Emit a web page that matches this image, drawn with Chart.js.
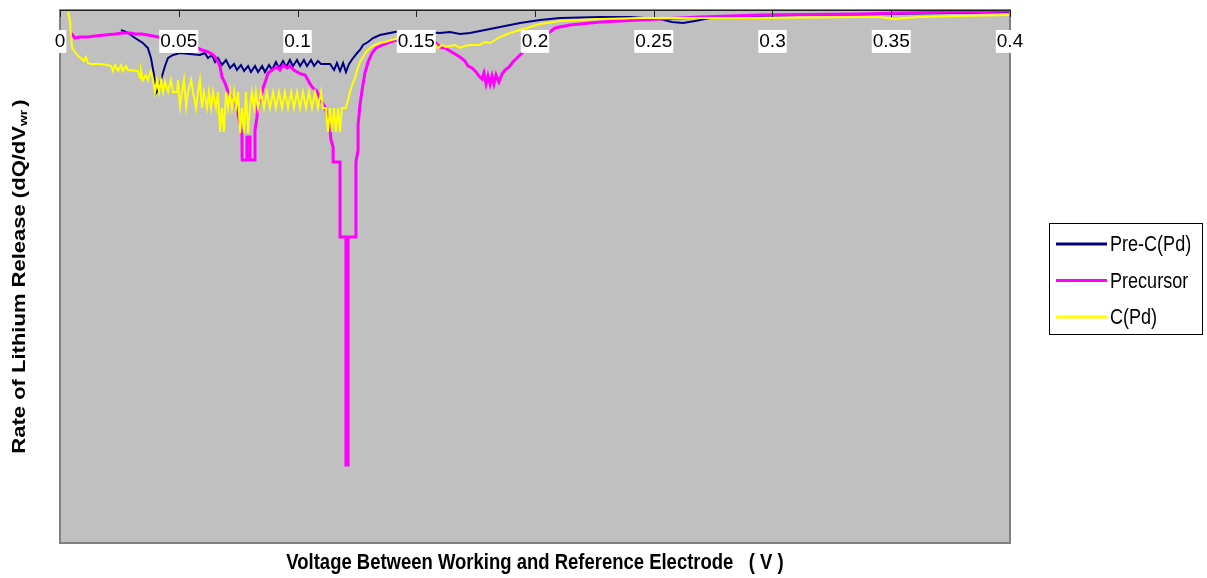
<!DOCTYPE html>
<html>
<head>
<meta charset="utf-8">
<script src="https://cdn.jsdelivr.net/npm/chart.js@4.4.1/dist/chart.umd.min.js"></script>
<style>
html, body { margin: 0; padding: 0; background: #fff; }
#wrap { width: 1207px; height: 578px; position: relative; }
</style>
</head>
<body>
<div id="wrap"><canvas id="myChart"></canvas></div>
<script>
// x: voltage (V), y: rate of lithium release (arbitrary units, negative down)
const xTicks = [0, 0.05, 0.1, 0.15, 0.2, 0.25, 0.3, 0.35, 0.4];
const xTickLabels = ['0', '0.05', '0.1', '0.15', '0.2', '0.25', '0.3', '0.35', '0.4'];
const seriesNames = ['Pre-C(Pd)', 'Precursor', 'C(Pd)'];

const preCPd = [
  [0.0257,-0.20],[0.0286,-0.23],[0.0316,-0.28],[0.0349,-0.33],[0.0370,-0.38],[0.0383,-0.48],
  [0.0396,-0.65],[0.0404,-0.83],[0.0413,-0.80],[0.0425,-0.70],[0.0442,-0.56],[0.0455,-0.48],
  [0.0476,-0.45],[0.0505,-0.43],[0.0547,-0.44],[0.0589,-0.45],[0.0610,-0.43],[0.0623,-0.48],
  [0.0640,-0.45],[0.0653,-0.52],[0.0665,-0.48],[0.0682,-0.55],[0.0699,-0.50],[0.0716,-0.58],
  [0.0733,-0.54],[0.0745,-0.60],[0.0762,-0.55],[0.0775,-0.61],[0.0792,-0.56],[0.0804,-0.62],
  [0.0821,-0.56],[0.0834,-0.62],[0.0851,-0.56],[0.0863,-0.62],[0.0880,-0.55],[0.0893,-0.60],
  [0.0909,-0.52],[0.0922,-0.58],[0.0939,-0.51],[0.0952,-0.57],[0.0968,-0.50],[0.0981,-0.56],
  [0.0998,-0.50],[0.1011,-0.56],[0.1027,-0.50],[0.1040,-0.56],[0.1057,-0.50],[0.1070,-0.56],
  [0.1086,-0.51],[0.1099,-0.54],[0.1137,-0.54],[0.1154,-0.60],[0.1166,-0.53],[0.1179,-0.61],
  [0.1192,-0.53],[0.1204,-0.62],[0.1217,-0.54],[0.1234,-0.48],[0.1251,-0.43],[0.1263,-0.40],
  [0.1276,-0.35],[0.1297,-0.32],[0.1318,-0.28],[0.1347,-0.25],[0.1389,-0.23],[0.1432,-0.21],
  [0.1516,-0.22],[0.1600,-0.23],[0.1642,-0.22],[0.1684,-0.24],[0.1726,-0.23],[0.1768,-0.21],
  [0.1853,-0.17],[0.1937,-0.13],[0.2021,-0.10],[0.2105,-0.08],[0.2274,-0.07],[0.2400,-0.07],
  [0.2526,-0.09],[0.2577,-0.12],[0.2623,-0.13],[0.2674,-0.11],[0.2737,-0.08],[0.2863,-0.06],
  [0.3116,-0.05],[0.3453,-0.04],[0.3747,-0.03],[0.4000,-0.02]
];

const precursor = [
  [0.0046,-0.23],[0.0063,-0.28],[0.0084,-0.27],[0.0118,-0.27],[0.0147,-0.26],[0.0189,-0.25],
  [0.0232,-0.24],[0.0261,-0.23],[0.0295,-0.23],[0.0316,-0.24],[0.0345,-0.24],[0.0370,-0.25],
  [0.0413,-0.27],[0.0484,-0.30],[0.0547,-0.34],[0.0577,-0.38],[0.0598,-0.40],[0.0623,-0.42],
  [0.0640,-0.44],[0.0653,-0.47],[0.0665,-0.52],[0.0674,-0.57],[0.0682,-0.67],[0.0695,-0.73],
  [0.0708,-0.82],[0.0724,-0.88],[0.0737,-0.93],[0.0745,-1.00],[0.0758,-1.13],[0.0766,-1.23],
  [0.0767,-1.50],[0.0787,-1.50],[0.0787,-1.27],[0.0800,-1.27],[0.0800,-1.50],[0.0821,-1.50],
  [0.0821,-1.20],[0.0829,-1.08],[0.0834,-0.95],[0.0846,-0.87],[0.0855,-0.78],[0.0867,-0.70],
  [0.0876,-0.63],[0.0893,-0.60],[0.0914,-0.57],[0.0926,-0.60],[0.0939,-0.55],[0.0956,-0.58],
  [0.0968,-0.56],[0.0985,-0.60],[0.0998,-0.62],[0.1015,-0.64],[0.1032,-0.65],[0.1044,-0.70],
  [0.1053,-0.74],[0.1065,-0.78],[0.1078,-0.80],[0.1091,-0.86],[0.1103,-0.92],[0.1116,-0.97],
  [0.1124,-1.04],[0.1133,-1.10],[0.1141,-1.30],[0.1150,-1.37],[0.1150,-1.52],[0.1179,-1.52],
  [0.1179,-2.27],[0.1204,-2.27],[0.1204,-4.55],[0.1213,-4.55],[0.1213,-2.27],[0.1246,-2.27],
  [0.1246,-1.52],[0.1255,-1.40],[0.1255,-1.15],[0.1263,-0.95],[0.1272,-0.80],[0.1284,-0.63],
  [0.1297,-0.52],[0.1314,-0.43],[0.1331,-0.38],[0.1356,-0.35],[0.1389,-0.32],[0.1432,-0.29],
  [0.1495,-0.28],[0.1550,-0.30],[0.1579,-0.32],[0.1600,-0.37],[0.1621,-0.38],[0.1642,-0.41],
  [0.1663,-0.44],[0.1684,-0.47],[0.1705,-0.51],[0.1718,-0.56],[0.1735,-0.58],[0.1752,-0.62],
  [0.1764,-0.66],[0.1777,-0.69],[0.1785,-0.63],[0.1794,-0.74],[0.1802,-0.66],[0.1811,-0.74],
  [0.1819,-0.66],[0.1827,-0.74],[0.1836,-0.65],[0.1848,-0.72],[0.1861,-0.64],[0.1874,-0.60],
  [0.1891,-0.57],[0.1907,-0.52],[0.1924,-0.48],[0.1941,-0.44],[0.1958,-0.40],[0.1979,-0.34],
  [0.2021,-0.28],[0.2063,-0.22],[0.2084,-0.18],[0.2147,-0.15],[0.2274,-0.12],[0.2442,-0.10],
  [0.2695,-0.07],[0.2947,-0.05],[0.3368,-0.04],[0.3537,-0.03],[0.3789,-0.02],[0.4000,-0.01]
];

const cPd = [
  [0.0034,-0.02],[0.0042,-0.10],[0.0046,-0.25],[0.0051,-0.38],[0.0063,-0.42],[0.0076,-0.46],
  [0.0088,-0.48],[0.0101,-0.51],[0.0109,-0.47],[0.0118,-0.53],[0.0131,-0.54],[0.0168,-0.54],
  [0.0202,-0.55],[0.0215,-0.56],[0.0223,-0.61],[0.0232,-0.55],[0.0244,-0.61],[0.0257,-0.55],
  [0.0265,-0.61],[0.0278,-0.56],[0.0286,-0.60],[0.0328,-0.61],[0.0337,-0.68],[0.0341,-0.61],
  [0.0349,-0.70],[0.0362,-0.65],[0.0370,-0.70],[0.0383,-0.61],[0.0392,-0.70],[0.0400,-0.82],
  [0.0408,-0.70],[0.0417,-0.82],[0.0425,-0.70],[0.0434,-0.82],[0.0442,-0.72],[0.0455,-0.82],
  [0.0467,-0.70],[0.0476,-0.82],[0.0493,-0.82],[0.0497,-0.70],[0.0505,-0.97],[0.0514,-0.82],
  [0.0522,-0.70],[0.0531,-0.97],[0.0539,-0.82],[0.0552,-0.70],[0.0560,-0.82],[0.0573,-0.98],
  [0.0581,-0.82],[0.0589,-0.70],[0.0598,-0.98],[0.0606,-0.82],[0.0619,-0.98],[0.0627,-0.82],
  [0.0636,-0.98],[0.0644,-0.82],[0.0657,-0.98],[0.0665,-0.82],[0.0674,-1.22],[0.0682,-0.98],
  [0.0690,-1.22],[0.0699,-0.82],[0.0708,-0.98],[0.0716,-0.82],[0.0724,-0.98],[0.0733,-0.82],
  [0.0741,-0.98],[0.0750,-0.82],[0.0758,-1.23],[0.0766,-0.98],[0.0775,-1.23],[0.0783,-0.82],
  [0.0792,-1.23],[0.0800,-0.98],[0.0808,-0.82],[0.0817,-0.98],[0.0825,-0.82],[0.0834,-0.98],
  [0.0846,-0.82],[0.0859,-0.98],[0.0871,-0.82],[0.0884,-0.98],[0.0897,-0.82],[0.0909,-0.98],
  [0.0922,-0.82],[0.0935,-0.98],[0.0947,-0.82],[0.0960,-0.98],[0.0973,-0.82],[0.0985,-0.98],
  [0.0998,-0.82],[0.1011,-0.98],[0.1023,-0.82],[0.1036,-0.98],[0.1048,-0.82],[0.1061,-0.98],
  [0.1074,-0.82],[0.1086,-0.98],[0.1099,-0.82],[0.1107,-0.98],[0.1120,-0.98],[0.1128,-1.22],
  [0.1137,-0.98],[0.1145,-1.22],[0.1154,-0.98],[0.1162,-1.22],[0.1171,-0.98],[0.1179,-1.22],
  [0.1187,-0.98],[0.1204,-0.98],[0.1213,-0.90],[0.1221,-0.82],[0.1230,-0.75],[0.1242,-0.68],
  [0.1251,-0.60],[0.1263,-0.52],[0.1276,-0.47],[0.1288,-0.42],[0.1305,-0.38],[0.1326,-0.35],
  [0.1347,-0.33],[0.1368,-0.32],[0.1411,-0.29],[0.1453,-0.27],[0.1516,-0.28],[0.1570,-0.32],
  [0.1579,-0.34],[0.1592,-0.38],[0.1609,-0.35],[0.1625,-0.37],[0.1642,-0.36],[0.1663,-0.35],
  [0.1684,-0.38],[0.1705,-0.36],[0.1726,-0.35],[0.1768,-0.35],[0.1789,-0.32],[0.1811,-0.33],
  [0.1832,-0.30],[0.1853,-0.27],[0.1895,-0.23],[0.1937,-0.20],[0.1979,-0.17],[0.2021,-0.14],
  [0.2105,-0.11],[0.2274,-0.09],[0.2442,-0.08],[0.2947,-0.08],[0.3368,-0.07],[0.3453,-0.07],
  [0.3507,-0.09],[0.3558,-0.08],[0.3621,-0.07],[0.3789,-0.06],[0.4000,-0.05]
];

const wide = "'Liberation Sans', Arial, sans-serif";

function to_points(arr) {
  return arr.map(p => ({ x: p[0], y: p[1] }));
}

// plot background, frame, inner tick marks, axis titles and boxed legend
const frame = {
  id: 'frame',
  beforeDraw(chart) {
    const a = chart.chartArea, c = chart.ctx;
    c.save();
    c.fillStyle = '#C0C0C0';
    c.fillRect(a.left, a.top, a.right - a.left, a.bottom - a.top);
    c.restore();
  },
  afterDatasetsDraw(chart) {
    const a = chart.chartArea, c = chart.ctx, sx = chart.scales.x;
    c.save();
    c.strokeStyle = '#808080';
    c.lineWidth = 2;
    c.strokeRect(a.left, a.top, a.right - a.left, a.bottom - a.top);
    c.strokeStyle = '#222';
    c.lineWidth = 1;
    c.beginPath();
    c.moveTo(a.left, a.top + 0.5);
    c.lineTo(a.right, a.top + 0.5);
    xTicks.forEach(v => {
      const px = Math.round(sx.getPixelForValue(v)) + 0.5;
      c.moveTo(px, a.top);
      c.lineTo(px, a.top + 7);
    });
    c.stroke();
    c.restore();
  },
  afterDraw(chart) {
    const a = chart.chartArea, c = chart.ctx;
    c.save();
    c.fillStyle = '#000';
    // x title
    c.font = "bold 22px " + wide;
    c.textAlign = 'center';
    c.textBaseline = 'middle';
    c.save();
    c.translate((a.left + a.right) / 2, 563);
    c.scale(0.84, 1);
    c.fillText('Voltage Between Working and Reference Electrode   ( V )', 0, 0);
    c.restore();
    // y title with subscript
    c.save();
    c.translate(20, (a.top + a.bottom) / 2);
    c.scale(0.82, 1);
    c.rotate(-Math.PI / 2);
    const main = 'Rate of Lithium Release (dQ/dV';
    c.font = "bold 22px " + wide;
    const w1 = c.measureText(main).width;
    const w3 = c.measureText(')').width;
    c.font = "bold 14px " + wide;
    const w2 = c.measureText('wr').width;
    const total = w1 + w2 + 3 + w3;
    c.textAlign = 'left';
    c.font = "bold 22px " + wide;
    c.fillText(main, -total / 2, 0);
    c.font = "bold 14px " + wide;
    c.fillText('wr', -total / 2 + w1, 5);
    c.font = "bold 22px " + wide;
    c.fillText(')', -total / 2 + w1 + w2 + 3, 0);
    c.restore();
    // legend
    c.strokeStyle = '#000';
    c.lineWidth = 1;
    c.strokeRect(1049.5, 223.5, 153, 111);
    chart.data.datasets.forEach((ds, i) => {
      const y = 244 + i * 36.5;
      c.strokeStyle = ds.borderColor;
      c.lineWidth = 3;
      c.beginPath();
      c.moveTo(1056, y);
      c.lineTo(1107, y);
      c.stroke();
      c.save();
      c.translate(1110, y);
      c.scale(0.82, 1);
      c.font = "22px " + wide;
      c.textAlign = 'left';
      c.fillText(ds.label, 0, 1);
      c.restore();
    });
    c.restore();
  }
};

const ctx = document.getElementById('myChart').getContext('2d');
const MyChart = new Chart(ctx, {
  type: 'line',
  data: {
    datasets: [
      { label: seriesNames[0], data: to_points(preCPd), borderColor: '#000080', borderWidth: 2, order: 3 },
      { label: seriesNames[1], data: to_points(precursor), borderColor: '#FF00FF', borderWidth: 3, order: 2 },
      { label: seriesNames[2], data: to_points(cPd), borderColor: '#FFFF00', borderWidth: 2, order: 1 }
    ]
  },
  options: {
    responsive: true,
    maintainAspectRatio: false,
    animation: false,
    layout: { padding: { left: 60, right: 197, top: 0, bottom: 35 } },
    elements: { point: { radius: 0 }, line: { tension: 0, borderJoinStyle: 'miter' } },
    plugins: { legend: { display: false }, tooltip: { enabled: false } },
    scales: {
      x: {
        type: 'linear',
        position: 'top',
        min: 0,
        max: 0.4,
        afterBuildTicks: s => { s.ticks = xTicks.map(v => ({ value: v })); },
        afterFit: s => { s.height = 10; },
        grid: { display: false, drawTicks: false },
        border: { display: false },
        ticks: {
          z: 1,
          autoSkip: false,
          maxRotation: 0,
          mirror: true,
          padding: 21,
          color: '#000',
          font: { family: wide, size: 19, lineHeight: 1.1 },
          showLabelBackdrop: true,
          backdropColor: '#fff',
          backdropPadding: 1,
          callback: (v, i) => xTickLabels[i]
        }
      },
      y: { display: false, min: -5.33, max: 0 }
    }
  },
  plugins: [frame]
});
</script>
</body>
</html>
